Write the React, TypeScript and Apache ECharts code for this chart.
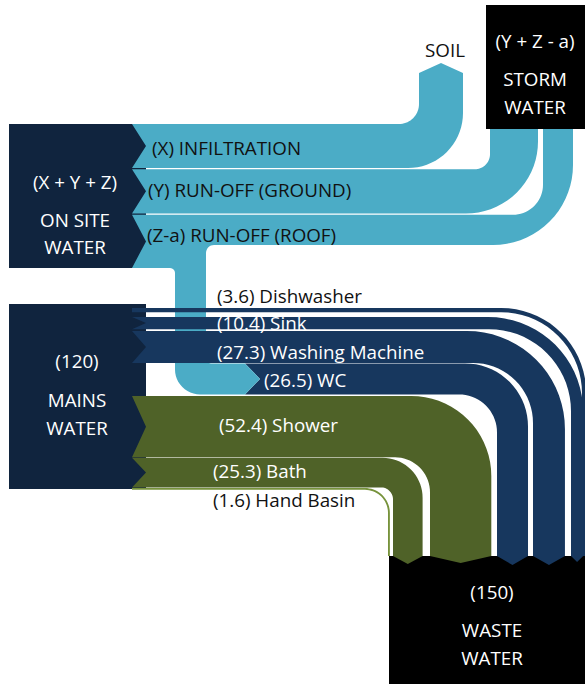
import React, { useEffect, useRef } from "react";
import * as echarts from "echarts";

// ---------------- data ----------------
const mainsUses = ["Dishwasher", "Sink", "Washing Machine", "WC", "Shower", "Bath", "Hand Basin"];
const mainsValues = [3.6, 10.4, 27.3, 26.5, 52.4, 25.3, 1.6];
const rainFlows = ["(X) INFILTRATION", "(Y) RUN-OFF (GROUND)", "(Z-a) RUN-OFF (ROOF)"];
const nodeTotals = ["(X + Y + Z)", "(120)", "(Y + Z - a)", "(150)"];
const nodeNames = [["ON SITE", "WATER"], ["MAINS", "WATER"], ["STORM", "WATER"], ["WASTE", "WATER"]];
const soilName = "SOIL";

// ---------------- layout / style ----------------
const W = 585;
const H = 684;
const PX_PER_UNIT = 1.17;
const LIGHT = "#4bacc6";
const NAVY = "#17375e";
const BOX = "#10243e";
const GREEN = "#4f6228";
const GREEN_LIGHT = "#77933c";
const FONT = '18.8px "Open Sans"';
const END_Y = 556;

// per mains flow: left start, top, notch, vertical leg left x, outer/inner radius, color, label pos
const mainsLayout = [
  { x0: 132, top: 308, notch: 0, leg: 582, ro: 85, ri: 81, tip: 0, color: NAVY, lx: 217, ly: 296, lc: "#111" },
  { x0: 132, top: 317, notch: 14, leg: 571, ro: 95, ri: 82, tip: 6, color: NAVY, lx: 217, ly: 323, lc: "#fff" },
  { x0: 132, top: 331, notch: 14, leg: 533, ro: 98, ri: 60, tip: 9, color: NAVY, lx: 217, ly: 352, lc: "#fff" },
  { x0: 245, top: 363.4, notch: 15, leg: 497, ro: 63, ri: 38, tip: 9, color: NAVY, lx: 264, ly: 380, lc: "#fff" },
  { x0: 132, top: 396, notch: 14, leg: 430, ro: 80, ri: 35, tip: 7, color: GREEN, lx: 219, ly: 425, lc: "#fff" },
  { x0: 132, top: 457.8, notch: 14, leg: 393, ro: 40, ri: 12, tip: 8, color: GREEN, lx: 213, ly: 471, lc: "#fff" },
  { x0: 132, top: 488, notch: 0, leg: 388, ro: 25, ri: 23, tip: 0, color: GREEN_LIGHT, lx: 213, ly: 500, lc: "#111" },
];

function arc(cx: number, cy: number, r: number, a0: number, a1: number, n = 18) {
  const pts: number[][] = [];
  for (let i = 0; i <= n; i++) {
    const a = ((a0 + ((a1 - a0) * i) / n) * Math.PI) / 180;
    pts.push([cx + r * Math.cos(a), cy + r * Math.sin(a)]);
  }
  return pts;
}

function bendDown(x0: number, t: number, w: number, notch: number, l: number, ro: number, ri: number, yEnd: number, tip: number) {
  const b = t + w;
  const r = l + w;
  const pts: number[][] = [[x0, t]];
  pts.push(...arc(r - ro, t + ro, ro, -90, 0));
  pts.push([r, yEnd]);
  if (tip) pts.push([(l + r) / 2, yEnd + tip]);
  pts.push([l, yEnd]);
  pts.push(...arc(l - ri, b + ri, ri, 0, -90));
  pts.push([x0, b]);
  if (notch) pts.push([x0 + notch, (t + b) / 2]);
  return pts;
}

function bendUp(x0: number, t: number, b: number, notch: number, l: number, r: number, ro: number, ri: number, yTop: number, tip: number) {
  const pts: number[][] = [[x0, t]];
  pts.push(...arc(l - ri, t - ri, ri, 90, 0));
  pts.push([l, yTop]);
  if (tip) pts.push([(l + r) / 2, yTop - tip]);
  pts.push([r, yTop]);
  pts.push(...arc(r - ro, b - ro, ro, 0, 90));
  pts.push([x0, b]);
  if (notch) pts.push([x0 + notch, (t + b) / 2]);
  return pts;
}

function rect(x0: number, y0: number, x1: number, y1: number) {
  return [[x0, y0], [x1, y0], [x1, y1], [x0, y1]];
}

function mainsShape(i: number) {
  const L = mainsLayout[i];
  const w = mainsValues[i] * PX_PER_UNIT;
  return { points: bendDown(L.x0, L.top, w, L.notch, L.leg, L.ro, L.ri, END_Y, L.tip), color: L.color };
}

function roofShape() {
  const t = 214.8, b = 245, l = 543, r = 573, ro = 80, ri = 30;
  const wcTop = mainsLayout[3].top;
  const wcBot = wcTop + mainsValues[3] * PX_PER_UNIT;
  const pts: number[][] = [[132, t]];
  pts.push(...arc(l - ri, t - ri, ri, 90, 0));
  pts.push([l, 110], [r, 110]);
  pts.push(...arc(r - ro, b - ro, ro, 0, 90));
  pts.push(...arc(214, b + 8, 8, -90, -180, 8));
  pts.push(...arc(211, wcTop - 5, 5, 180, 90, 6));
  pts.push([245, wcTop], [260, (wcTop + wcBot) / 2], [245, wcBot]);
  pts.push(...arc(200, wcBot - 25, 25, 90, 180, 12));
  pts.push(...arc(170, 273, 5, 0, -90, 6));
  pts.push([132, 268], [146, (t + 268) / 2]);
  return { points: pts, color: LIGHT };
}

function buildShapes() {
  const shapes: { points: number[][]; color: string }[] = [];
  shapes.push({ points: rect(389, END_Y, W, H), color: "#000" });
  shapes.push({ points: rect(9, 124, 146, 268), color: BOX });
  shapes.push({ points: rect(9, 304, 146, 489), color: BOX });
  shapes.push({ points: bendUp(132, 124, 168, 14, 419, 463, 55, 20, 73, 10), color: LIGHT });
  shapes.push({ points: bendUp(132, 169.2, 213.5, 14, 490, 538, 72, 15, 110, 0), color: LIGHT });
  shapes.push(mainsShape(3));
  shapes.push(roofShape());
  shapes.push({ points: rect(486, 5, W, 129), color: "#000" });
  [0, 1, 2, 4, 5, 6].forEach((i) => shapes.push(mainsShape(i)));
  return shapes;
}

type Lbl = { text: string; x: number; y: number; color: string; align: string };

function buildLabels(): Lbl[] {
  const labels: Lbl[] = [];
  const rainPos = [[152, 148], [148, 190], [147, 235]];
  rainFlows.forEach((t, i) => labels.push({ text: t, x: rainPos[i][0], y: rainPos[i][1], color: "#111", align: "left" }));
  mainsUses.forEach((u, i) => {
    const L = mainsLayout[i];
    labels.push({ text: `(${mainsValues[i]}) ${u}`, x: L.lx, y: L.ly, color: L.lc, align: "left" });
  });
  const nodePos = [[75, 182, 220, 247], [77, 361, 400, 428], [535, 41, 79, 107], [492, 592, 630, 658]];
  nodeTotals.forEach((t, i) => {
    const p = nodePos[i];
    labels.push({ text: t, x: p[0], y: p[1], color: "#fff", align: "center" });
    labels.push({ text: nodeNames[i][0], x: p[0], y: p[2], color: "#fff", align: "center" });
    labels.push({ text: nodeNames[i][1], x: p[0], y: p[3], color: "#fff", align: "center" });
  });
  labels.push({ text: soilName, x: 445, y: 50, color: "#111", align: "center" });
  return labels;
}

export default function App() {
  const ref = useRef<HTMLDivElement>(null);
  useEffect(() => {
    if (!ref.current) return;
    const chart = echarts.init(ref.current, undefined, { renderer: "svg" });
    const shapes = buildShapes();
    const labels = buildLabels();
    chart.setOption({
      animation: false,
      backgroundColor: "#fff",
      grid: { left: 0, right: 0, top: 0, bottom: 0, containLabel: false },
      xAxis: { type: "value", min: 0, max: W, show: false },
      yAxis: { type: "value", min: 0, max: H, inverse: true, show: false },
      series: [
        {
          type: "custom",
          coordinateSystem: "cartesian2d",
          silent: true,
          clip: false,
          data: shapes.map(() => [0, 0]),
          renderItem: (params: any, api: any) => {
            const s = shapes[params.dataIndex];
            return {
              type: "polygon",
              shape: { points: s.points.map((p) => api.coord(p)) },
              style: { fill: s.color },
            };
          },
          z: 1,
        },
        {
          type: "custom",
          coordinateSystem: "cartesian2d",
          silent: true,
          clip: false,
          data: labels.map(() => [0, 0]),
          renderItem: (params: any, api: any) => {
            const l = labels[params.dataIndex];
            const [x, y] = api.coord([l.x, l.y]);
            return {
              type: "text",
              x,
              y,
              style: {
                text: l.text,
                fill: l.color,
                font: FONT,
                textAlign: l.align,
                textVerticalAlign: "middle",
                align: l.align,
                verticalAlign: "middle",
              },
            };
          },
          z: 5,
        },
      ],
    });
    return () => chart.dispose();
  }, []);
  return <div ref={ref} style={{ position: "absolute", left: 0, top: 0, width: W, height: H }} />;
}
